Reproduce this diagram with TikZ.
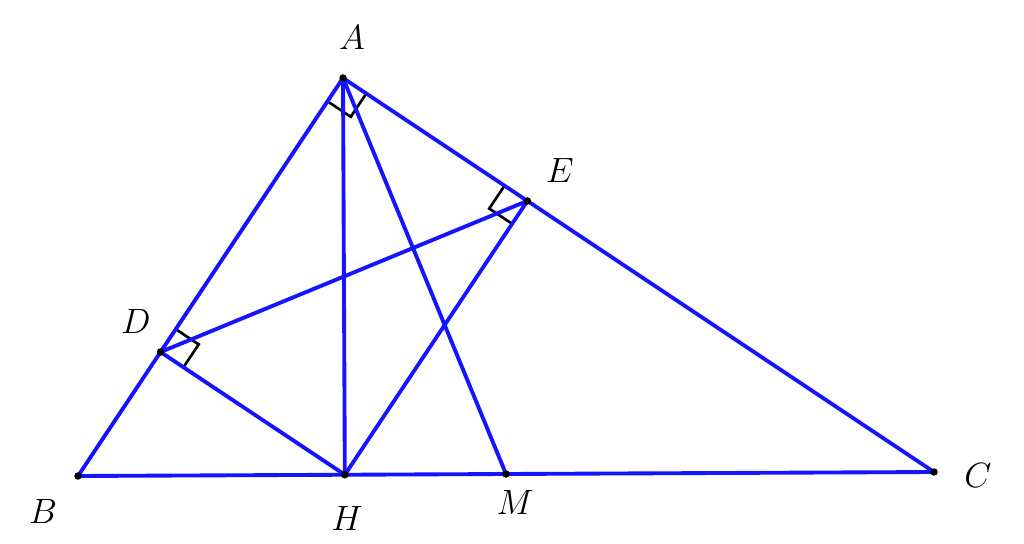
\RequirePackage{fix-cm}
\documentclass[tikz,border=0pt]{standalone}
\usetikzlibrary{calc}
\begin{document}
\begin{tikzpicture}[x=0.02cm,y=-0.02cm,
  seg/.style={draw={rgb,255:red,20;green,20;blue,255},line width=2.2pt,line cap=round,line join=round},
  rmark/.style={draw=black,line width=1.5pt},
  pt/.style={circle,fill=black,inner sep=0pt,minimum size=0.15cm},
  lbl/.style={font=\fontsize{20}{24}\selectfont}]
\useasboundingbox (0,0) rectangle (1024,544);
\coordinate (A) at (343,78);
\coordinate (B) at (78,476);
\coordinate (C) at (934,472);
\coordinate (H) at ($(B)!(A)!(C)$);
\coordinate (M) at ($(B)!0.5!(C)$);
\coordinate (D) at ($(A)!(H)!(B)$);
\coordinate (E) at ($(A)!(H)!(C)$);
% right angle marks
\coordinate (a1) at ($(A)!0.56cm!(B)$);
\coordinate (a2) at ($(A)!0.56cm!(C)$);
\draw[rmark] (a1) -- ($(a1)+(a2)-(A)$) -- (a2);
\coordinate (e1) at ($(E)!0.55cm!(A)$);
\coordinate (e2) at ($(E)!0.55cm!(H)$);
\draw[rmark] (e1) -- ($(e1)+(e2)-(E)$) -- (e2);
\coordinate (d1) at ($(D)!0.55cm!(A)$);
\coordinate (d2) at ($(D)!0.55cm!(H)$);
\draw[rmark] (d1) -- ($(d1)+(d2)-(D)$) -- (d2);
% segments
\draw[seg] (A) -- (B) -- (C) -- cycle;
\draw[seg] (A) -- (H);
\draw[seg] (A) -- (M);
\draw[seg] (D) -- (E);
\draw[seg] (D) -- (H) -- (E);
% points
\foreach \p in {A,B,C,D,E,H,M} \node[pt] (dot\p) at (\p) {};
% labels
\node[lbl] (lA) at (352,37) {$A$};
\node[lbl] (lE) at (560,170) {$E$};
\node[lbl] (lD) at (136,321) {$D$};
\node[lbl] (lB) at (43,511) {$B$};
\node[lbl] (lH) at (347,518) {$H$};
\node[lbl] (lM) at (515,502) {$M$};
\node[lbl] (lC) at (978,475) {$C$};
\end{tikzpicture}
\end{document}
